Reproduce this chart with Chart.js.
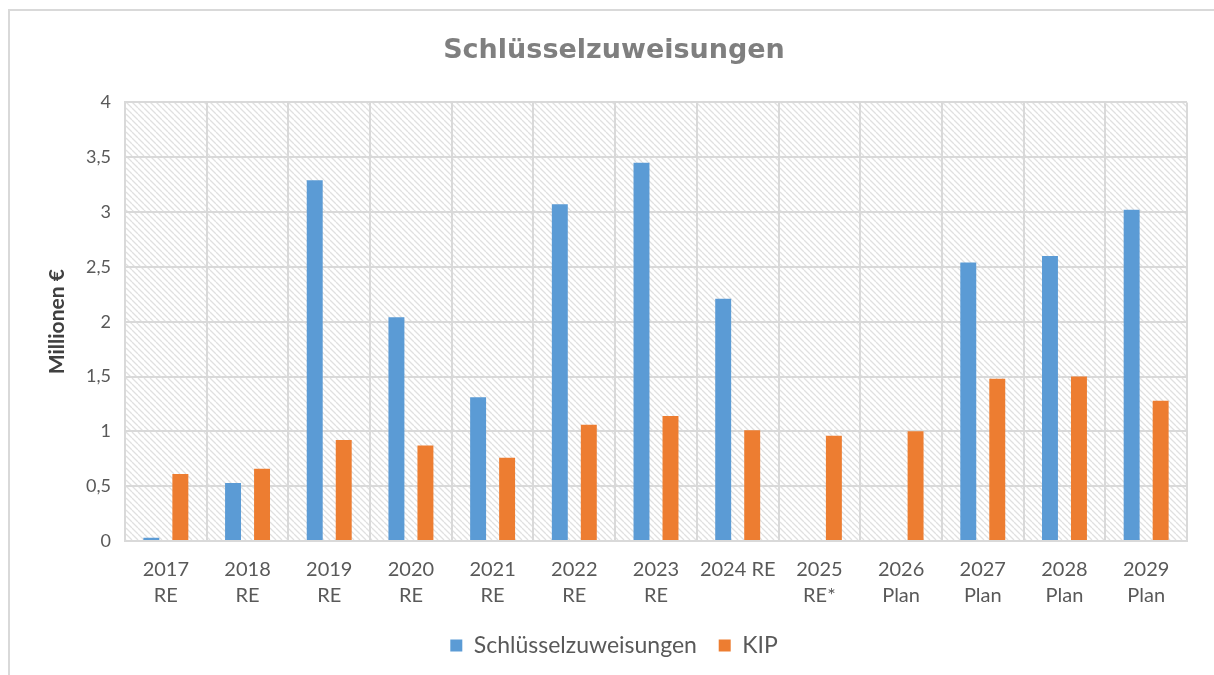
<!DOCTYPE html>
<html>
<head>
<meta charset="utf-8">
<script src="https://cdn.jsdelivr.net/npm/chart.js@4/dist/chart.umd.min.js"></script>
<style>
  html, body { margin: 0; padding: 0; background: #fff; overflow: hidden; }
  #frame { position: absolute; left: 8px; top: 9px; width: 1300px; height: 800px;
           border-left: 2px solid #d9d9d9; border-top: 2px solid #d9d9d9; }
  #wrap { position: absolute; left: 0; top: 0; width: 1214px; height: 675px; }
</style>
</head>
<body>
<div id="frame"></div>
<div id="wrap"><canvas id="chart"></canvas></div>
<script>
// categories and values (Millionen €)
const years = [['2017', 'RE'], ['2018', 'RE'], ['2019', 'RE'], ['2020', 'RE'], ['2021', 'RE'],
    ['2022', 'RE'], ['2023', 'RE'], '2024 RE', ['2025', 'RE*'], ['2026', 'Plan'],
    ['2027', 'Plan'], ['2028', 'Plan'], ['2029', 'Plan']];
const schluessel = [0.03, 0.53, 3.29, 2.04, 1.31, 3.07, 3.45, 2.21, null, null, 2.54, 2.60, 3.02];
const kip = [0.61, 0.66, 0.92, 0.87, 0.76, 1.06, 1.14, 1.01, 0.96, 1.00, 1.48, 1.50, 1.28];

const FONT = 'Lato, "Noto Sans", sans-serif';

function makeHatch() {
    const c = document.createElement('canvas');
    c.width = 6; c.height = 6;
    const g = c.getContext('2d');
    g.fillStyle = '#ffffff';
    g.fillRect(0, 0, 6, 6);
    g.strokeStyle = '#e0e0e0';
    g.lineWidth = 1.3;
    g.beginPath();
    [-6, 0, 6].forEach(k => { g.moveTo(k, 0); g.lineTo(k + 6, 6); });
    g.stroke();
    return g.createPattern(c, 'repeat');
}

// hatched plot area, like the Excel pattern fill
const hatchBg = {
    id: 'hatchBg',
    beforeDraw(chart) {
        const {ctx, chartArea: a} = chart;
        ctx.save();
        ctx.fillStyle = makeHatch();
        ctx.fillRect(a.left, a.top, a.right - a.left, a.bottom - a.top);
        ctx.restore();
    }
};

new Chart(document.getElementById('chart'), {
    type: 'bar',
    data: {
        labels: years,
        datasets: [{
            label: 'Schlüsselzuweisungen',
            data: schluessel,
            backgroundColor: '#5b9bd5'
        }, {
            label: 'KIP',
            data: kip,
            backgroundColor: '#ed7d31'
        }]
    },
    options: {
        responsive: true,
        maintainAspectRatio: false,
        animation: false,
        datasets: { bar: { categoryPercentage: 0.71, barPercentage: 0.55 } },
        layout: { padding: { left: 41, right: 27, top: 0, bottom: 8 } },
        plugins: {
            title: {
                display: true,
                text: 'Schlüsselzuweisungen',
                color: '#7f7f7f',
                font: { family: '"DejaVu Sans", sans-serif', size: 27, weight: 'bold' },
                padding: { top: 35, bottom: 35 }
            },
            legend: {
                position: 'bottom',
                labels: {
                    color: '#595959',
                    font: { family: FONT, size: 23 },
                    boxWidth: 12, boxHeight: 12,
                    padding: 10,
                    generateLabels(chart) {
                        const items = Chart.defaults.plugins.legend.labels.generateLabels(chart);
                        items[0].text += '  ';
                        return items;
                    }
                }
            },
            tooltip: { enabled: false }
        },
        scales: {
            x: {
                grid: { color: '#d9d9d9', lineWidth: 2, drawTicks: false },
                border: { color: '#d9d9d9', width: 2 },
                ticks: {
                    color: '#595959',
                    font: { family: FONT, size: 20, lineHeight: 1.3 },
                    padding: 16,
                    maxRotation: 0,
                    autoSkip: false
                },
                afterFit(s) { s.height = 83; }
            },
            y: {
                min: 0, max: 4,
                grid: { color: '#d9d9d9', lineWidth: 2, drawTicks: false },
                border: { color: '#d9d9d9', width: 2 },
                ticks: {
                    stepSize: 0.5,
                    color: '#595959',
                    font: { family: FONT, size: 18 },
                    padding: 14,
                    callback: v => String(v).replace('.', ',')
                },
                title: {
                    display: true,
                    text: 'Millionen €',
                    color: '#404040',
                    font: { family: FONT, size: 21, weight: 'bold' },
                    padding: { top: 4, bottom: 0 }
                },
                afterFit(s) { s.width = 84; }
            }
        }
    },
    plugins: [hatchBg]
});
</script>
</body>
</html>
